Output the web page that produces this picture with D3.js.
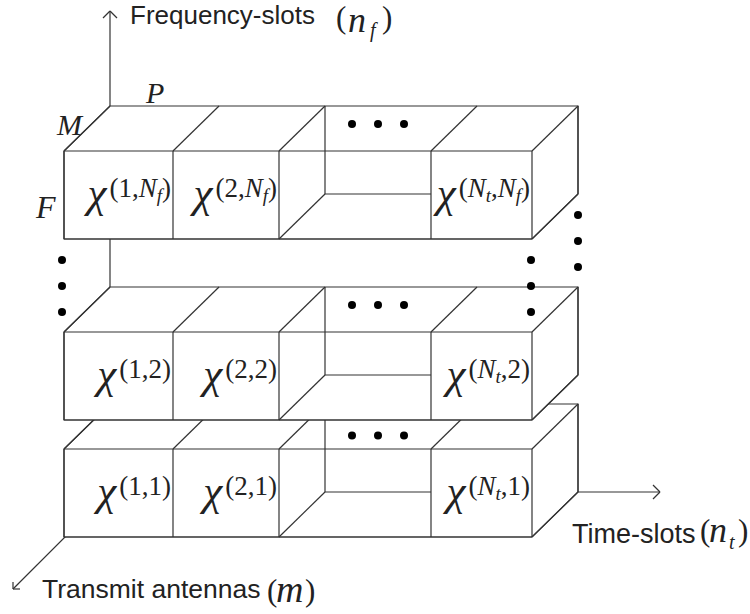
<!DOCTYPE html>
<html lang="en">
<head>
<meta charset="UTF-8">
<title>Layers</title>
<script src="https://cdn.jsdelivr.net/npm/d3@7/dist/d3.min.js"></script>
<style>
  body { margin: 0; background: #fff; }
</style>
</head>
<body>
<script>
// layers along the frequency axis (bottom to top), slots along the time axis
var freqSlots = ["1", "2", "N_f"];
var timeSlots = ["1", "2", "...", "N_t"];
var axisNames = ["Frequency-slots", "Time-slots", "Transmit antennas"];
var axisSymbols = ["n_f", "n_t", "m"];
var edgeLetters = ["P", "M", "F"];

var width = 750, height = 614;
var svg = d3.select("body").append("svg")
    .attr("width", width)
    .attr("height", height);

var ink = "#333";
var serif = "'Liberation Serif', 'Times New Roman', serif";
var sans = "'Liberation Sans', Arial, sans-serif";

// geometry of one layer
var boxH = 88;
var depth = {x: 46, y: -45};
var xEdge = d3.scaleLinear().domain([0, 1, 2, 3, 4]).range([64, 173, 279, 431, 532]);
var yLayer = d3.scaleOrdinal().domain(freqSlots).range([449, 332, 151]);

var gapIndex = timeSlots.indexOf("...");
var x0 = xEdge(0), x1 = xEdge(timeSlots.length);
var origin = [x0 + depth.x, yLayer(freqSlots[0]) + boxH + depth.y];

function seg(a, b) { return {a: a, b: b}; }

function drawSegs(g, segs) {
    g.selectAll("line.s").data(segs).enter().append("line")
        .attr("class", "s")
        .attr("x1", function (d) { return d.a[0]; })
        .attr("y1", function (d) { return d.a[1]; })
        .attr("x2", function (d) { return d.b[0]; })
        .attr("y2", function (d) { return d.b[1]; })
        .attr("stroke", ink)
        .attr("stroke-width", 1.2);
}

// pieces: [text, italic, sub]
function symbolPieces(s) {
    var p = s.split("_");
    if (p.length === 1) return [[s, /[a-zA-Z]/.test(s), false]];
    return [[p[0], true, false], [p[1], true, true]];
}

function addPieces(text, pieces, size, subSize, subShift) {
    var low = false;
    pieces.forEach(function (p) {
        var t = text.append("tspan").text(p[0])
            .style("font-style", p[1] ? "italic" : "normal")
            .attr("font-size", p[2] ? subSize : size);
        if (p[2] && !low) { t.attr("dy", subShift); low = true; }
        else if (!p[2] && low) { t.attr("dy", -subShift); low = false; }
    });
}

// ---- axes (drawn first, layers hide the parts behind them)
var axes = svg.append("g");
var arm = 7;
drawSegs(axes, [
    seg(origin, [origin[0], 11]),
    seg([origin[0], 11], [origin[0] - arm, 11 + arm]),
    seg([origin[0], 11], [origin[0] + arm, 11 + arm]),
    seg(origin, [660, origin[1]]),
    seg([660, origin[1]], [660 - arm, origin[1] - arm]),
    seg([660, origin[1]], [660 - arm, origin[1] + arm]),
    seg(origin, [13, 589]),
    seg([13, 589], [13, 589 - arm]),
    seg([13, 589], [13 + arm, 589])
]);

// ---- layers
function drawLayer(key, li) {
    var y0 = yLayer(key), y1 = y0 + boxH;
    var g = svg.append("g");
    var dx = depth.x, dy = depth.y;

    g.append("path")
        .attr("d", d3.line()([[x0, y1], [x0, y0], [x0 + dx, y0 + dy], [x1 + dx, y0 + dy],
            [x1 + dx, y1 + dy], [x1, y1]]) + "Z")
        .attr("fill", "#fff")
        .attr("stroke", ink)
        .attr("stroke-width", 1.2);

    var segs = [seg([x0, y0], [x1, y0]), seg([x0, y1], [x1, y1])];
    d3.range(timeSlots.length + 1).forEach(function (i) {
        var x = xEdge(i);
        segs.push(seg([x, y0], [x, y1]));
        segs.push(seg([x, y0], [x + dx, y0 + dy]));
    });
    // right face
    segs.push(seg([x1 + dx, y0 + dy], [x1 + dx, y1 + dy]));
    segs.push(seg([x1, y1], [x1 + dx, y1 + dy]));
    // hollow between slot 2 and N_t
    var xg = xEdge(gapIndex), xg2 = xEdge(gapIndex + 1);
    segs.push(seg([xg + dx, y0 + dy], [xg + dx, y1 + dy]));
    segs.push(seg([xg, y1], [xg + dx, y1 + dy]));
    segs.push(seg([xg + dx, y1 + dy], [xg2, y1 + dy]));
    drawSegs(g, segs);

    // dots on the top face
    var above = freqSlots[li + 1];
    var dotY = y0 - 27;
    if (above && yLayer(above) + boxH > dotY - 8) dotY = (y0 + yLayer(above) + boxH) / 2 + 1;
    g.selectAll("circle").data([0, 1, 2]).enter().append("circle")
        .attr("cx", function (d) { return xg + dx + 27 + 26 * d; })
        .attr("cy", dotY)
        .attr("r", 4)
        .attr("fill", "#000");

    // cell labels
    timeSlots.forEach(function (t, i) {
        if (t === "...") return;
        var txt = g.append("text")
            .attr("x", xEdge(i + 1) - 2)
            .attr("y", y0 + 56)
            .attr("text-anchor", "end")
            .attr("font-family", serif)
            .attr("fill", "#222");
        txt.append("tspan").text("\u03c7").style("font-style", "italic").attr("font-size", 43);
        var sup = txt.append("tspan").attr("dy", -10).attr("dx", 3).attr("font-size", 27);
        var pieces = [["(", false, false]]
            .concat(symbolPieces(t))
            .concat([[",", false, false]])
            .concat(symbolPieces(key))
            .concat([[")", false, false]]);
        addPieces(sup, pieces, 27, 19, 5);
    });
}

freqSlots.forEach(drawLayer);

// ---- vertical dots between layer 2 and layer N_f
var gapTop = yLayer(freqSlots[2]) + boxH;
var vDots = [];
[0, 1, 2].forEach(function (k) {
    var y = gapTop + 21 + 26 * k;
    vDots.push([x0 - 2, y]);
    vDots.push([x1 - 1, y]);
    vDots.push([x1 + depth.x, y + depth.y]);
});
svg.append("g").selectAll("circle").data(vDots).enter().append("circle")
    .attr("cx", function (d) { return d[0]; })
    .attr("cy", function (d) { return d[1]; })
    .attr("r", 4)
    .attr("fill", "#000");

// ---- edge letters
var letterPos = [[146, 103], [57, 135], [36, 218]];
var letterSize = [30, 30, 32];
svg.append("g").selectAll("text").data(edgeLetters).enter().append("text")
    .attr("x", function (d, i) { return letterPos[i][0]; })
    .attr("y", function (d, i) { return letterPos[i][1]; })
    .attr("font-family", serif)
    .attr("font-style", "italic")
    .attr("font-size", function (d, i) { return letterSize[i]; })
    .attr("fill", "#222")
    .text(function (d) { return d; });

// ---- axis titles
var titlePos = [[130, 24], [572, 543], [42, 598]];
var titleSize = [26, 27, 26.5];
var symPos = [
    {open: [336, 28], sym: [348, 32], sub: [370, 37], close: [382, 28]},
    {open: [700, 541], sym: [709, 542], sub: [729, 549], close: [738, 541]},
    {open: [267, 601], sym: [276, 602], sub: null, close: [305, 601]}
];
axisNames.forEach(function (name, i) {
    var g = svg.append("g").attr("fill", "#222");
    g.append("text")
        .attr("x", titlePos[i][0]).attr("y", titlePos[i][1])
        .attr("font-family", sans).attr("font-size", titleSize[i])
        .text(name);
    var p = symPos[i], parts = axisSymbols[i].split("_");
    g.append("text").attr("x", p.open[0]).attr("y", p.open[1])
        .attr("font-family", serif).attr("font-size", 31).text("(");
    g.append("text").attr("x", p.sym[0]).attr("y", p.sym[1])
        .attr("font-family", serif).attr("font-style", "italic")
        .attr("font-size", parts[0] === "m" ? 38 : 36).text(parts[0]);
    if (parts[1]) {
        g.append("text").attr("x", p.sub[0]).attr("y", p.sub[1])
            .attr("font-family", serif).attr("font-style", "italic").attr("font-size", 20).text(parts[1]);
    }
    g.append("text").attr("x", p.close[0]).attr("y", p.close[1])
        .attr("font-family", serif).attr("font-size", 31).text(")");
});
</script>
</body>
</html>
